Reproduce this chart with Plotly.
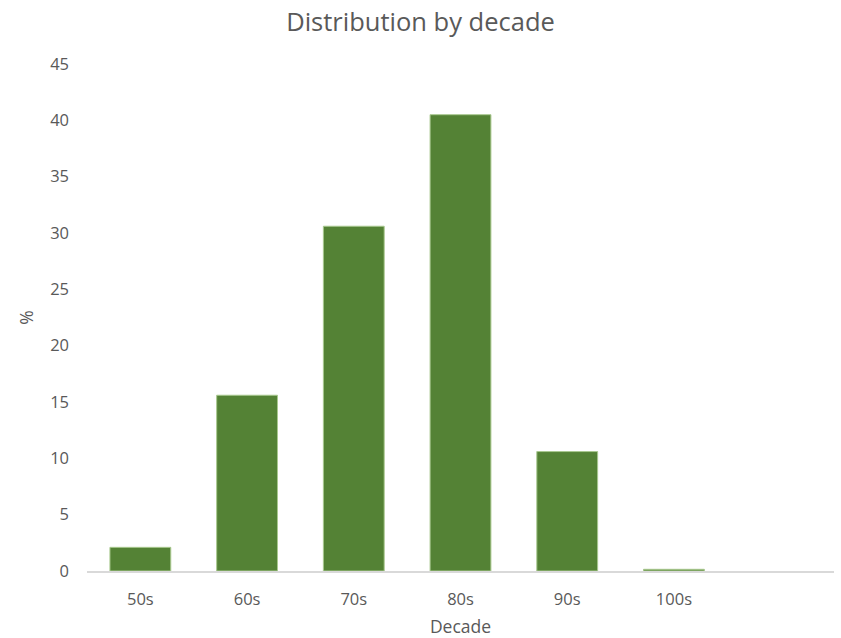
import plotly.graph_objects as go

categories = ["50s", "60s", "70s", "80s", "90s", "100s"]
values = [2.1, 15.6, 30.6, 40.5, 10.6, 0.15]
y_ticks = [0, 5, 10, 15, 20, 25, 30, 35, 40, 45]

fig = go.Figure(
    go.Bar(
        x=categories,
        y=values,
        width=0.57,
        marker=dict(color="#548235", line=dict(color="#a9c98f", width=1)),
    )
)

font_family = "Open Sans, Liberation Sans, sans-serif"
fig.update_layout(
    width=841,
    height=638,
    margin=dict(l=87, r=7, t=64, b=67),
    paper_bgcolor="white",
    plot_bgcolor="white",
    showlegend=False,
    title=dict(
        text="Distribution by decade",
        x=0.5,
        xanchor="center",
        y=1 - 22 / 638,
        yanchor="middle",
        font=dict(family=font_family, size=25.5, color="#595959"),
    ),
    xaxis=dict(
        type="category",
        categoryorder="array",
        categoryarray=categories,
        range=[-0.5, 6.5],
        showgrid=False,
        showline=True,
        linecolor="#d9d9d9",
        linewidth=1.5,
        ticks="",
        ticklabelstandoff=12,
        tickfont=dict(family=font_family, size=16.5, color="#595959"),
        automargin=False,
        title=dict(text="Decade", font=dict(family=font_family, size=17.5, color="#595959"), standoff=13),
    ),
    yaxis=dict(
        range=[0, 45],
        tickvals=y_ticks,
        showgrid=False,
        zeroline=False,
        showline=False,
        ticks="",
        ticklabelstandoff=17,
        automargin=False,
        tickfont=dict(family=font_family, size=16.5, color="#595959"),
        title=dict(text="%", font=dict(family=font_family, size=17.5, color="#595959"), standoff=12),
    ),
)

fig.write_html("out.html")
